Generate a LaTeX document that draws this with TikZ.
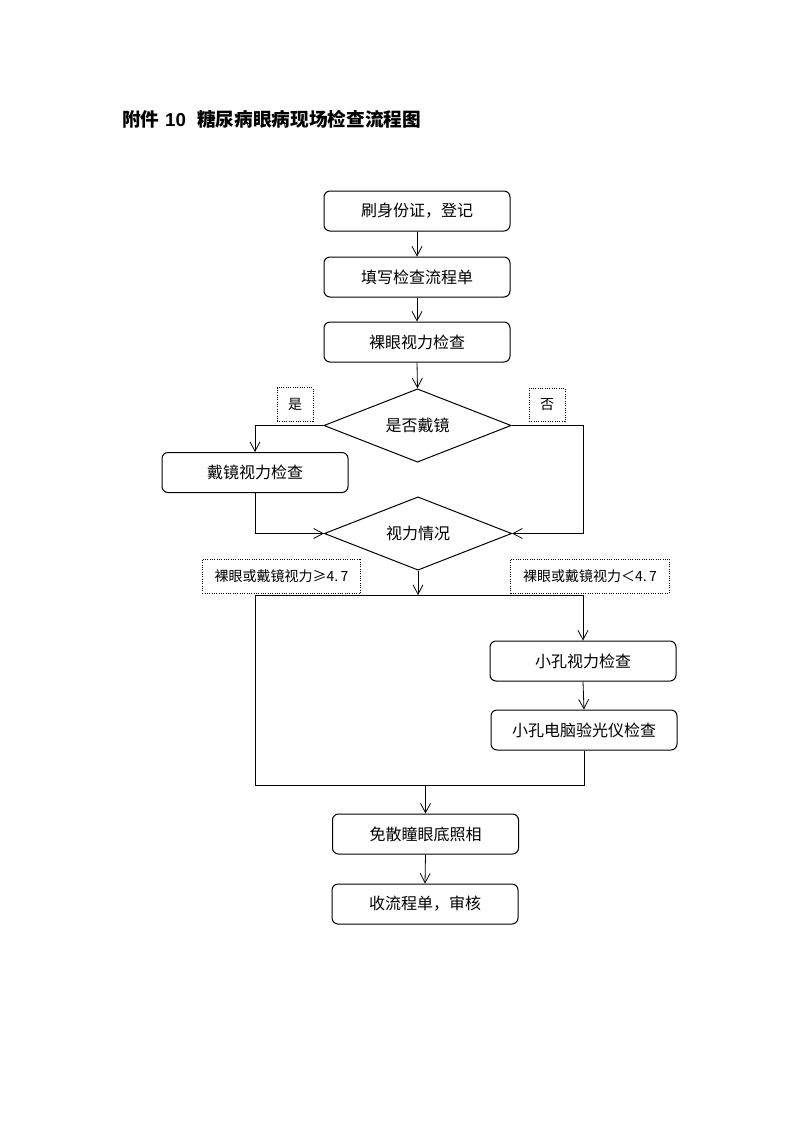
\documentclass[tikz,border=0pt]{standalone}
\usepackage{fontspec}
\setmainfont{Noto Sans CJK SC}
\newfontfamily\latinbold{Liberation Sans}[BoldFont={* Bold}]
\usetikzlibrary{shapes.geometric,arrows.meta,calc}
\tikzset{
  procbox/.style={draw, rounded corners=4.5pt, line width=0.75pt, minimum width=139.5pt, minimum height=30pt, inner sep=0pt, font=\fontsize{12}{14}\selectfont},
  decision/.style={draw, diamond, line width=0.75pt, minimum width=140.5pt, minimum height=55pt, inner sep=0pt, aspect=2.5, font=\fontsize{12}{14}\selectfont},
  smalllab/.style={draw, densely dotted, line width=0.75pt, minimum width=27pt, minimum height=25pt, inner sep=0pt, font=\fontsize{10.5}{12}\selectfont},
  widelab/.style={draw, densely dotted, line width=0.75pt, minimum width=119pt, minimum height=25.5pt, inner sep=0pt, font=\fontsize{10.5}{12}\selectfont},
  conn/.style={line width=0.6pt},
  arr/.style={line width=0.6pt, -{Straight Barb[length=7pt,width=7.5pt]}},
}
\begin{document}
\begin{tikzpicture}[x=0.75pt, y=-0.75pt]
\useasboundingbox (0,0) rectangle (800,1132);
% title
\node[anchor=west, inner sep=0pt, font=\fontsize{14}{16}\selectfont\bfseries] (title) at (122,119)
  {附件\hspace{0.3em}{\latinbold\bfseries 10}\hspace{0.6em}糖尿病眼病现场检查流程图};
% nodes
\node[procbox] (b1) at (417,211) {刷身份证，登记};
\node[procbox] (b2) at (417,277) {填写检查流程单};
\node[procbox] (b3) at (417,342) {裸眼视力检查};
\node[decision] (d1) at (417.5,425.5) {是否戴镜};
\node[smalllab] (yes) at (295,404.5) {是};
\node[smalllab] (no) at (547,405) {否};
\node[procbox] (bw) at (255,472.5) {戴镜视力检查};
\node[decision] (d2) at (418,533.5) {视力情况};
\node[widelab] (lab1) at (281.5,576) {裸眼或戴镜视力≥4.\,7};
\node[widelab] (lab2) at (590,576) {裸眼或戴镜视力＜4.\,7};
\node[procbox] (b4) at (583,661) {小孔视力检查};
\node[procbox] (b5) at (584,730) {小孔电脑验光仪检查};
\node[procbox] (b6) at (425.5,834) {免散瞳眼底照相};
\node[procbox] (b7) at (425,904) {收流程单，审核};
% coordinates
\coordinate (c1) at (583,533.5);
\coordinate (jl) at (255,595);
\coordinate (jm) at (418,595);
\coordinate (jr) at (583,595);
\coordinate (bl) at (255,785);
\coordinate (br) at (584,785);
\coordinate (bm) at (425.5,785);
% connectors
\draw[arr] (b1.south) -- (b2.north);
\draw[arr] (b2.south) -- (b3.north);
\draw[arr] (b3.south) -- (d1.north);
\draw[arr] (d1.west) -| (bw.north);
\draw[arr] (d1.east) -| (c1) -- (d2.east);
\draw[arr] (bw.south) |- (d2.west);
\draw[arr] (d2.south) -- (jm);
\draw[conn] (jl) -- (jr);
\draw[arr] (jr) -- (b4.north);
\draw[arr] (b4.south) -- (b5.north);
\draw[conn] (jl) -- (bl) -- (br) -- (b5.south);
\draw[arr] (bm) -- (b6.north);
\draw[arr] (b6.south) -- (b7.north);
\end{tikzpicture}
\end{document}
